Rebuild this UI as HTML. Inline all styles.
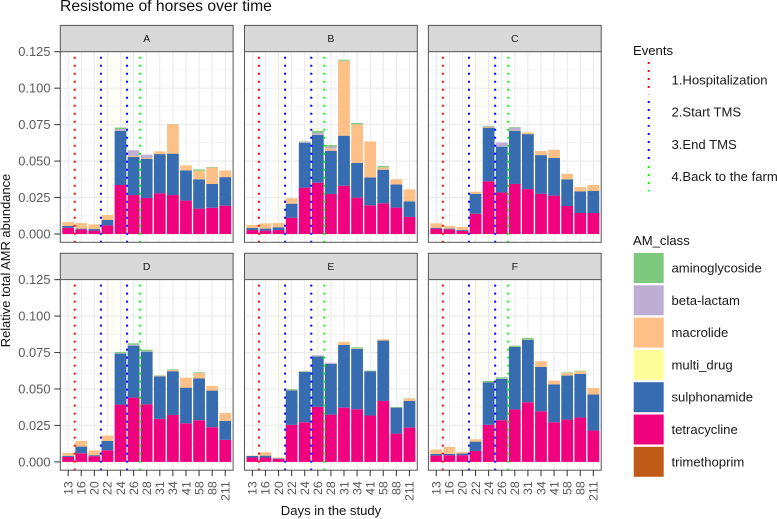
<!DOCTYPE html>
<html lang="en">
<head>
<meta charset="utf-8">
<title>Resistome of horses over time</title>
<style>
html,body{margin:0;padding:0;background:#fff;}
svg{display:block;font-family:"Liberation Sans",sans-serif;}
</style>
</head>
<body>
<svg id="chart" xmlns="http://www.w3.org/2000/svg" width="777" height="519" viewBox="0 0 777 519">
<text x="60" y="11" font-size="15.7" fill="#111">Resistome of horses over time</text>
<text transform="translate(10,260.5) rotate(-90)" text-anchor="middle" font-size="12.9" fill="#111">Relative total AMR abundance</text>
<text x="331" y="515" text-anchor="middle" font-size="13.1" fill="#111">Days in the study</text>
<g id="panels"></g>
<g>
<text x="633" y="55" font-size="13.1" fill="#111">Events</text>
<line x1="648.7" x2="648.7" y1="62" y2="94.4" stroke="#ff0000" stroke-width="2" stroke-dasharray="2 6"/>
<line x1="648.7" x2="648.7" y1="101" y2="126.7" stroke="#0000ff" stroke-width="2" stroke-dasharray="2 6"/>
<line x1="648.7" x2="648.7" y1="133" y2="159" stroke="#0000ff" stroke-width="2" stroke-dasharray="2 6"/>
<line x1="648.7" x2="648.7" y1="166" y2="191.4" stroke="#00ff00" stroke-width="2" stroke-dasharray="2 6"/>
<text x="671.5" y="84.5" font-size="13.1" fill="#1a1a1a">1.Hospitalization</text>
<text x="671.5" y="116.5" font-size="13.1" fill="#1a1a1a">2.Start TMS</text>
<text x="671.5" y="149" font-size="13.1" fill="#1a1a1a">3.End TMS</text>
<text x="671.5" y="181" font-size="13.1" fill="#1a1a1a">4.Back to the farm</text>
</g>
<g id="class-legend">
<text x="633" y="245" font-size="13.1" fill="#111">AM_class</text>
</g>
</svg>
<script>
const categories = ["13","16","20","22","24","26","28","31","34","41","58","88","211"];
const yTickLabels = ["0.000","0.025","0.050","0.075","0.100","0.125"];
const yTicks = [0,0.025,0.05,0.075,0.1,0.125];
const yMinorTicks = [0.0125,0.0375,0.0625,0.0875,0.1125];
const panelNames = ["A","B","C","D","E","F"];
const classNames = ["aminoglycoside","beta-lactam","macrolide","multi_drug","sulphonamide","tetracycline","trimethoprim"];
const classColors = ["#7FC97F","#BEAED4","#FDC086","#FFFF99","#386CB0","#F0027F","#BF5B17"];
const eventPositions = [0.5,2.5,4.5,5.5];
const eventColors = ["#ff0000","#0000ff","#0000ff","#00ff00"];

const noneValues = [0,0,0,0,0,0,0,0,0,0,0,0,0];

const A_tetracycline = [.0043,.0032,.0023,.0059,.0336,.0267,.0247,.0279,.0267,.0229,.0174,.018,.0194];
const A_sulphonamide = [.0012,.0005,.0011,.0037,.0372,.0261,.0269,.0269,.0284,.0207,.0201,.0163,.0196];
const A_macrolide = [.0027,.0038,.0032,.0034,.0002,.0007,.0005,.0019,.0201,.0035,.0059,.0112,.0046];
const A_betalactam = [0,0,0,0,.001,.0039,.0023,0,0,0,0,0,0];
const A_aminoglycoside = [0,0,0,0,.001,0,0,0,.0002,0,.0009,.0004,0];

const B_tetracycline = [.0027,.0023,.0027,.0112,.0318,.0352,.0274,.0331,.0249,.0197,.021,.0181,.0117];
const B_sulphonamide = [.0014,.0014,.0019,.0096,.0308,.0327,.0297,.0343,.0238,.0191,.0231,.0159,.0107];
const B_macrolide = [.0021,.0036,.0029,.0037,.0001,.0001,.0016,.0514,.0265,.0247,.0016,.0035,.0082];
const B_betalactam = [0,0,0,0,.0006,.0013,.0012,0,0,0,0,0,0];
const B_aminoglycoside = [0,0,0,0,.0002,.0014,.0011,.0007,.0009,0,.0009,0,0];

const C_tetracycline = [.0037,.0032,.0021,.0139,.0361,.0285,.0343,.0308,.0276,.0263,.0192,.0144,.0144];
const C_sulphonamide = [.0006,.0005,.0006,.0137,.0368,.0314,.0365,.0377,.0265,.0258,.0183,.0148,.0151];
const C_macrolide = [.003,.0018,.0021,.0014,.0006,0,.0002,.0012,.0028,.0057,.0038,.003,.0041];
const C_betalactam = [0,0,0,0,.0002,.0029,.0019,0,0,0,0,0,0];
const C_aminoglycoside = [0,0,0,0,.0004,0,.0004,0,0,0,0,0,0];

const D_tetracycline = [.0034,.0059,.0039,.008,.0393,.0441,.0395,.0295,.0322,.0265,.0286,.0238,.0151];
const D_sulphonamide = [.0007,.0046,.0007,.0064,.035,.0356,.0361,.0292,.03,.0244,.0287,.0251,.013];
const D_macrolide = [.0021,.0039,.0032,.0037,.0002,0,.0001,.0005,.0009,.0069,.0038,.0032,.0055];
const D_betalactam = [0,0,0,0,.0002,.0006,.0002,0,0,0,0,0,0];
const D_aminoglycoside = [0,0,0,0,.0007,.001,.001,.0002,.0004,0,.0004,0,0];

const E_tetracycline = [.003,.003,.0021,.0254,.0272,.0377,.0324,.0372,.0361,.0318,.0418,.0194,.0235];
const E_sulphonamide = [.0011,.0013,.0004,.0237,.0345,.0347,.0348,.043,.0414,.0304,.0414,.0178,.0183];
const E_macrolide = [.0003,.0023,.0005,.0002,.0001,.0002,.0001,.0021,.0003,.0001,.0009,.0001,.0016];
const E_betalactam = [0,0,0,0,0,.0005,.0007,0,0,0,0,0,0];
const E_aminoglycoside = [0,0,0,.0005,.0004,0,0,0,.0008,.0003,0,.0004,.0002];

const F_tetracycline = [.0043,.0046,.0046,.0075,.0254,.0286,.0359,.0409,.0347,.0272,.029,.0304,.0215];
const F_sulphonamide = [.0012,.0009,.0011,.0064,.0292,.0283,.0429,.0427,.0304,.026,.0302,.0299,.0247];
const F_macrolide = [.003,.0048,.0012,.0016,.0001,.0001,.0001,.0002,.0039,.0026,.0018,.0018,.0045];
const F_betalactam = [0,0,0,0,0,0,0,0,0,0,0,0,0];
const F_aminoglycoside = [0,0,0,0,.0008,.001,.0008,.0012,0,0,.0004,.0004,0];

const panelSeries = {
  A: [noneValues, A_tetracycline, A_sulphonamide, noneValues, A_macrolide, A_betalactam, A_aminoglycoside],
  B: [noneValues, B_tetracycline, B_sulphonamide, noneValues, B_macrolide, B_betalactam, B_aminoglycoside],
  C: [noneValues, C_tetracycline, C_sulphonamide, noneValues, C_macrolide, C_betalactam, C_aminoglycoside],
  D: [noneValues, D_tetracycline, D_sulphonamide, noneValues, D_macrolide, D_betalactam, D_aminoglycoside],
  E: [noneValues, E_tetracycline, E_sulphonamide, noneValues, E_macrolide, E_betalactam, E_aminoglycoside],
  F: [noneValues, F_tetracycline, F_sulphonamide, noneValues, F_macrolide, F_betalactam, F_aminoglycoside]
};
const stackClassIndex = [6,5,4,3,2,1,0];

const NS = "http://www.w3.org/2000/svg";
function mk(parent, tag, attrs, txt) {
  const e = document.createElementNS(NS, tag);
  for (const k in attrs) e.setAttribute(k, attrs[k]);
  if (txt !== undefined) e.textContent = txt;
  parent.appendChild(e);
  return e;
}
const colLeft = [60.3, 244.5, 428.4];
const panelW = 172.8;
const rowTop = [51.7, 279.6];
const panelH = 190.6;
const stripH = 26.3;
const yScaleSpan = 182.3;
const zeroOffset = 182.3;

function xScale(col, pos) { return colLeft[col] + panelW * (pos + 0.6) / 13.2; }
function yScale(row, v) { return rowTop[row] + zeroOffset - v / 0.125 * yScaleSpan; }

const root = document.getElementById("panels");
panelNames.forEach(function (name, idx) {
  const col = idx % 3, row = Math.floor(idx / 3);
  const L = colLeft[col], T = rowTop[row], R = L + panelW, B = T + panelH;
  const g = mk(root, "g", {});
  
  

  const strip = mk(g, "rect", {x: L, y: T - stripH, width: panelW, height: stripH, fill: "#d9d9d9", stroke: "#555", "stroke-width": 1});
  
  
  const stripText = mk(g, "text", {x: (L + R) / 2, y: T - stripH / 2 + 3.4, "text-anchor": "middle", "font-size": 10.5, fill: "#1a1a1a"}, name);
  
  

  mk(g, "rect", {x: L, y: T, width: panelW, height: panelH, fill: "#fff"});

  yMinorTicks.forEach(function (v) {
    const line = mk(g, "line", {x1: L, x2: R, y1: yScale(row, v), y2: yScale(row, v), stroke: "#efefef", "stroke-width": 0.6});
    
    
  });
  yTicks.forEach(function (v) {
    const line = mk(g, "line", {x1: L, x2: R, y1: yScale(row, v), y2: yScale(row, v), stroke: "#ebebeb", "stroke-width": 1.1});
    
    
  });
  categories.forEach(function (c, i) {
    const line = mk(g, "line", {x1: xScale(col, i), x2: xScale(col, i), y1: T, y2: B, stroke: "#ebebeb", "stroke-width": 1.1});
    
    
  });

  const series = panelSeries[name];
  categories.forEach(function (c, i) {
    let acc = 0;
    series.forEach(function (values, s) {
      const v = values[i];
      if (!v) return;
      const y0 = yScale(row, acc), y1 = yScale(row, acc + v);
      const cls = stackClassIndex[s];
      const bar = mk(g, "rect", {x: xScale(col, i) - 0.45 * panelW / 13.2, y: y1, width: 0.9 * panelW / 13.2, height: y0 - y1, fill: classColors[cls]});
      
      
      acc += v;
    });
  });

  eventPositions.forEach(function (p, e) {
    const x = xScale(col, p);
    const line = mk(g, "line", {x1: x, x2: x, y1: B + 0.4, y2: T, stroke: eventColors[e], "stroke-width": 2, "stroke-dasharray": "2 6"});
    
    
  });

  const border = mk(g, "rect", {x: L, y: T, width: panelW, height: panelH, fill: "none", stroke: "#555", "stroke-width": 1});
  
  

  if (col === 0) {
    yTicks.forEach(function (v, t) {
      const y = yScale(row, v);
      const tick = mk(g, "line", {x1: L - 6, x2: L, y1: y, y2: y, stroke: "#444", "stroke-width": 1.1});
      
      
      const lab = mk(g, "text", {x: 50.5, y: y + 4.5, "text-anchor": "end", "font-size": 12.9, fill: "#5a5a5a"}, yTickLabels[t]);
      
      
    });
  }
  if (row === 1) {
    categories.forEach(function (c, i) {
      const x = xScale(col, i);
      const tick = mk(g, "line", {x1: x, x2: x, y1: B, y2: B + 6, stroke: "#444", "stroke-width": 1.1});
      
      
      const lab = mk(g, "text", {transform: "translate(" + (x + 4.3) + "," + (B + 11) + ") rotate(-90)", "text-anchor": "end", "font-size": 12.4, fill: "#5a5a5a"}, c);
      
      
    });
  }
});

const legend = document.getElementById("class-legend");
classNames.forEach(function (n, i) {
  const y = 253 + i * 32.3;
  const key = mk(legend, "rect", {x: 633.7, y: y, width: 30, height: 30, fill: classColors[i]});
  
  
  const lab = mk(legend, "text", {x: 671.5, y: y + 19.5, "font-size": 13.1, fill: "#1a1a1a"}, n);
  
  
});
</script>
</body>
</html>
